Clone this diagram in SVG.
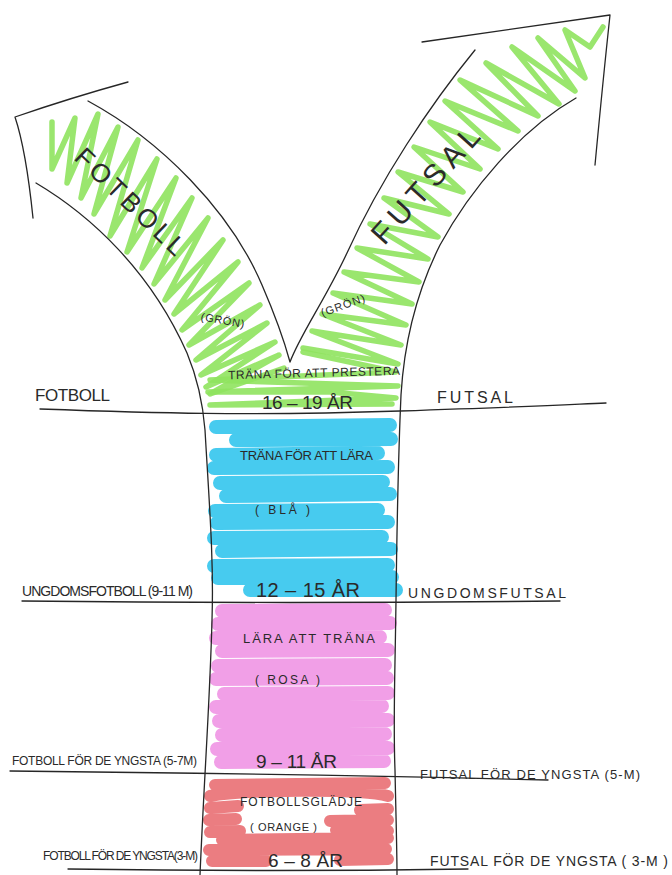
<svg xmlns="http://www.w3.org/2000/svg" width="672" height="875" viewBox="0 0 672 875">
  <style>
    .ink{fill:none;stroke:#262626;stroke-width:1.3;stroke-linecap:round;stroke-linejoin:round}
    .green{fill:none;stroke:#8fe35e;stroke-width:5.5;stroke-linecap:round;stroke-linejoin:round;stroke-opacity:.9}
    .blue{fill:none;stroke:#2ec4ed;stroke-width:14;stroke-linecap:round;stroke-opacity:.88}
    .pink{fill:none;stroke:#ef92e4;stroke-width:14;stroke-linecap:round;stroke-opacity:.88}
    .red{fill:none;stroke:#e8666b;stroke-width:12;stroke-linecap:round;stroke-opacity:.85}
    text{font-family:"Liberation Sans","DejaVu Sans",sans-serif;fill:#2a2a2a}
  </style>
  <rect width="672" height="875" fill="#fff"/>

  <!-- green scribble in both branches (16-19 år) -->
  <g id="green-fill">
    <polyline class="green" points="52,122 52,169 75,118 67,183 98,114 81,198 118,127 94,214 138,140 110,236 157,159 127,252 176,178 142,268 192,198 154,284 208,218 165,300 223,240 174,314 238,262 182,330 249,283 189,345 260,305 196,360 267,323 201,375 275,342 206,387 279,355 210,394 284,368"/>
    <polyline class="green" points="603,27 590,47 565,30 585,78 538,38 575,91 512,47 559,104 486,63 538,116 460,80 518,131 445,101 498,149 430,122 480,169 414,147 463,192 398,172 449,214 384,198 438,237 370,224 428,259 357,248 419,282 344,272 412,304 333,293 406,325 322,314 401,345 312,331 398,364 303,348"/>
    <polyline class="green" points="303,352 396,372 210,380 398,386 208,392 330,392 396,398 210,405 392,404"/>
  </g>

  <!-- blue band (12-15 år) -->
  <g id="blue-fill">
    <path class="blue" d="M216,427 L390,425 M236,440 L391,439 M216,455 L378,453 M214,468 L388,467 M220,483 L383,482 M226,496 L390,494 M215,511 L378,510 M217,523 L388,522 M214,538 L382,537 M222,551 L391,549 M214,566 L388,565 M218,578 L392,577 M250,590 L396,590"/>
  </g>

  <!-- pink band (9-11 år) -->
  <g id="pink-fill">
    <path class="pink" d="M222,611 L385,610 M218,624 L390,623 M216,638 L380,637 M222,651 L388,650 M218,666 L385,665 M216,679 L387,678 M224,694 L388,693 M216,707 L382,706 M219,721 L388,720 M222,735 L385,734 M217,749 L388,748 M221,762 L384,761"/>
  </g>

  <!-- red ring (6-8 år) -->
  <g id="red-fill">
    <path class="red" d="M215,785 L385,783 M210,796 C240,790 360,788 388,796 M210,808 L238,806 M209,820 L236,819 M210,832 L240,831 M222,840 L388,838 M209,850 L386,849 M212,861 L266,861 M340,860 L388,859 M330,821 L388,820 M336,830 L388,831 M360,810 L388,809"/>
  </g>

  <!-- outlines of the Y -->
  <g id="outline">
    <path class="ink" d="M128,82 Q70,98 15,117 Q26,150 33,218"/>
    <path class="ink" d="M36,183 C90,215 150,270 187,353 C197,377 203,405 205,430 C209,500 214,560 212,620 C210,700 204,780 200,875"/>
    <path class="ink" d="M88,101 C160,140 230,210 262,285 C275,315 284,340 290,362 C300,335 325,300 347,253 C380,180 430,105 475,50"/>
    <path class="ink" d="M422,42 Q505,30 610,15 Q603,80 595,165"/>
    <path class="ink" d="M576,98 C520,130 470,190 440,245 C415,295 404,345 401,395 C399,440 397,520 396,600 C395,680 393,720 395,770 C396,820 397,850 397,875"/>
  </g>

  <!-- level dividers -->
  <g id="dividers">
    <path class="ink" d="M40,409 C150,413 250,416 400,411 S560,405 606,403"/>
    <path class="ink" d="M22,601 Q290,604 560,601"/>
    <path class="ink" d="M10,771 Q300,774 548,780"/>
    <path class="ink" d="M68,869 Q270,872 468,869"/>
  </g>

  <!-- branch labels -->
  <g id="branch-labels">
    <text transform="translate(124,208) rotate(44)" x="-71" y="0" font-size="26" textLength="142">FOTBOLL</text>
    <text transform="translate(433,192) rotate(-48)" x="-73" y="0" font-size="30" textLength="146">FUTSAL</text>
    <text transform="translate(222,324) rotate(10)" x="-22" y="0" font-size="11" textLength="44">(GRÖN)</text>
    <text transform="translate(344,309) rotate(-20)" x="-23" y="0" font-size="11" textLength="46">(GRÖN)</text>
  </g>

  <!-- stage texts inside the stem -->
  <g id="stage-labels">
    <text x="228" y="377" font-size="12" textLength="172" transform="rotate(-1.5 314 372)">TRÄNA FÖR ATT PRESTERA</text>
    <text x="262" y="409" font-size="19" textLength="91">16 – 19 ÅR</text>
    <text x="240" y="460" font-size="13" textLength="133">TRÄNA FÖR ATT LÄRA</text>
    <text x="255" y="514" font-size="12" textLength="55">( BLÅ )</text>
    <text x="256" y="597" font-size="20" textLength="104">12 – 15 ÅR</text>
    <text x="243" y="643" font-size="13" textLength="132">LÄRA ATT TRÄNA</text>
    <text x="255" y="684" font-size="12" textLength="65">( ROSA )</text>
    <text x="256" y="768" font-size="19" textLength="81">9 – 11 ÅR</text>
    <text x="240" y="806" font-size="12" textLength="122">FOTBOLLSGLÄDJE</text>
    <text x="250" y="831" font-size="11" textLength="67">( ORANGE )</text>
    <text x="268" y="867" font-size="19" textLength="75">6 – 8 ÅR</text>
  </g>

  <!-- side labels -->
  <g id="side-labels">
    <text x="35" y="401" font-size="17" textLength="75">FOTBOLL</text>
    <text x="437" y="403" font-size="16" textLength="76">FUTSAL</text>
    <text x="22" y="596" font-size="14" textLength="171">UNGDOMSFOTBOLL (9-11 M)</text>
    <text x="408" y="598" font-size="14" textLength="158">UNGDOMSFUTSAL</text>
    <text x="12" y="765" font-size="12" textLength="185">FOTBOLL FÖR DE YNGSTA (5-7M)</text>
    <text x="420" y="779" font-size="13" textLength="220">FUTSAL FÖR DE YNGSTA (5-M)</text>
    <text x="43" y="860" font-size="12" textLength="155">FOTBOLL FÖR DE YNGSTA(3-M)</text>
    <text x="430" y="866" font-size="14" textLength="238">FUTSAL FÖR DE YNGSTA ( 3-M )</text>
  </g>
</svg>
